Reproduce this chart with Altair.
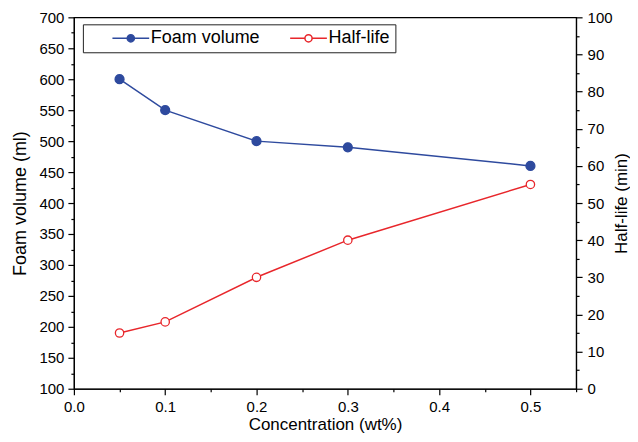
import altair as alt
import pandas as pd

# ---- data ----
concentration = [0.05, 0.1, 0.2, 0.3, 0.5]
foam_volume = [600, 550, 500, 490, 460]
half_life = [15, 18, 30, 40, 55]
series_names = ["Foam volume", "Half-life"]

x_ticks = [round(i * 0.05, 2) for i in range(12)]
left_ticks = list(range(100, 701, 25))
right_ticks = list(range(0, 101, 5))

BLUE = "#2e4a9e"
RED = "#e8262b"
FONT = "Liberation Sans"

df = pd.DataFrame({"conc": concentration, "foam": foam_volume, "half": half_life})

common = dict(
    grid=False, domainColor="black", tickColor="black", labelColor="black",
    labelFontSize=15, titleFontWeight="normal", titleColor="black",
    labelFont=FONT, titleFont=FONT,
)

x_axis = alt.Axis(
    values=x_ticks,
    labelExpr="(round(datum.value*100) % 10 == 0 && datum.value < 0.52) ? format(datum.value, '.1f') : ''",
    tickSize={"condition": {"test": "round(datum.value*100) % 10 == 0", "value": 6}, "value": 3},
    labelPadding=5, titlePadding=2, labelFlush=False, titleFontSize=17, **common,
)
x_enc = alt.X("conc:Q", scale=alt.Scale(domain=[0, 0.55], nice=False, zero=False),
              axis=x_axis, title="Concentration (wt%)")

left_axis = alt.Axis(
    values=left_ticks,
    labelExpr="datum.value % 50 == 0 ? format(datum.value, 'd') : ''",
    tickSize={"condition": {"test": "datum.value % 50 == 0", "value": 6}, "value": 3},
    labelPadding=4, titlePadding=9, orient="left", titleFontSize=18, **common,
)
right_axis = alt.Axis(
    values=right_ticks,
    labelExpr="datum.value % 10 == 0 ? format(datum.value, 'd') : ''",
    tickSize={"condition": {"test": "datum.value % 10 == 0", "value": 6}, "value": 3},
    labelPadding=5, titlePadding=1, orient="right", titleFontSize=17,
    titleAngle=270, titleBaseline="top", **common,
)

# custom legend symbol: line with a circle in the middle
sym_path = ("M-2.3,0L-0.45,0M0.45,0L2.3,0"
            "M0.45,0A0.45,0.45 0 1 1 -0.45,0A0.45,0.45 0 1 1 0.45,0")
legend = alt.Legend(
    title=None, orient="none", legendX=9, legendY=7, direction="horizontal",
    symbolType=sym_path, symbolSize=256, symbolStrokeWidth=1.5,
    symbolOffset=34, labelOffset=11,
    labelFontSize=18, labelFont=FONT, labelColor="black", labelLimit=400,
    strokeColor="#222", padding=5, columnPadding=5,
)
color_scale = alt.Scale(domain=series_names, range=[BLUE, RED])
fill_scale = alt.Scale(domain=series_names, range=[BLUE, "white"])

base = alt.Chart(df).encode(x=x_enc)

foam_y = alt.Y("foam:Q", scale=alt.Scale(domain=[100, 700], nice=False, zero=False),
               axis=left_axis, title="Foam volume (ml)")
half_y = alt.Y("half:Q", scale=alt.Scale(domain=[0, 100], nice=False, zero=False),
               axis=right_axis, title="Half-life (min)")

color_enc = alt.Color("series:N", scale=color_scale, legend=legend)
fill_enc = alt.Fill("series:N", scale=fill_scale, legend=legend)

foam_base = base.transform_calculate(series=f"'{series_names[0]}'").encode(y=foam_y)
foam_layer = alt.layer(
    foam_base.mark_line(strokeWidth=1.5).encode(color=color_enc),
    foam_base.mark_point(filled=False, size=80, strokeWidth=1.3, opacity=1).encode(
        color=color_enc, fill=fill_enc),
)

half_base = base.transform_calculate(series=f"'{series_names[1]}'").encode(y=half_y)
half_layer = alt.layer(
    half_base.mark_line(strokeWidth=1.5).encode(color=color_enc),
    half_base.mark_point(filled=False, size=70, strokeWidth=1.3, opacity=1).encode(
        color=color_enc, fill=fill_enc),
)

chart = alt.layer(foam_layer, half_layer).resolve_scale(y="independent").properties(
    width=503, height=372,
    padding={"left": 3, "top": 2, "right": 0, "bottom": 0},
    background="white",
).configure_view(stroke="black", strokeWidth=1.2).configure_axis(domainWidth=1.2, tickWidth=1.2)

chart.save("out.html", embed_options={"renderer": "svg", "actions": False})
